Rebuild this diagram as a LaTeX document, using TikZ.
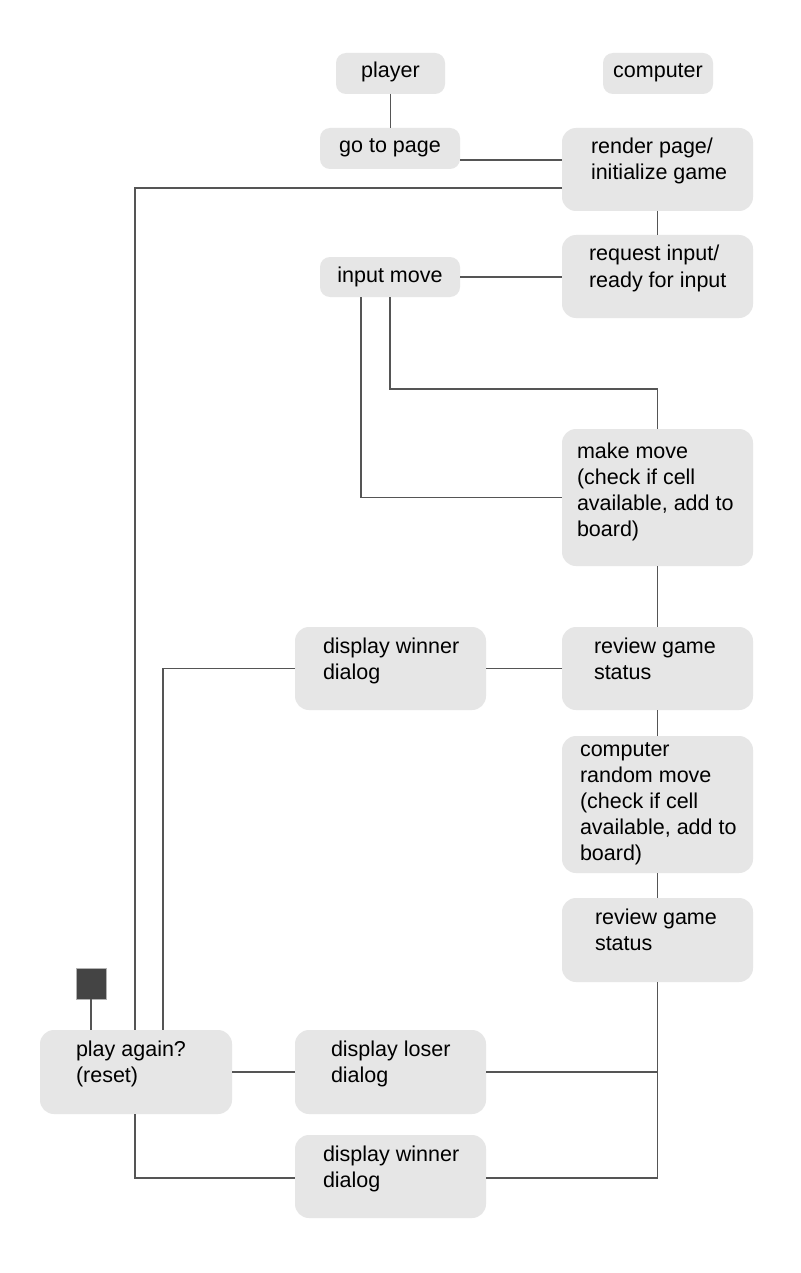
\documentclass[tikz,border=0pt]{standalone}
\usepackage{fontspec}
\setmainfont{Liberation Sans}
\definecolor{boxfill}{RGB}{230,230,230}
\definecolor{linecol}{RGB}{85,85,85}
\definecolor{sqfill}{RGB}{68,68,68}
\newcommand\tstrut{\rule{0pt}{18pt}}
\begin{document}
\begin{tikzpicture}[x=1pt,y=-1pt,
  box/.style={fill=boxfill, draw=none, rounded corners=14pt, inner sep=0pt, outer sep=0pt},
  smallbox/.style={box, rounded corners=10pt},
  txt/.style={inner sep=0pt, outer sep=0pt, font=\fontsize{21.5}{26}\selectfont, align=left, text=black},
  conn/.style={draw=linecol, line width=1.2pt}
]
\useasboundingbox[fill=white] (0,0) rectangle (800,1273);

% boxes
\node[smallbox, minimum width=109pt, minimum height=41pt] (player) at (390.5,73.5) {};
\node[smallbox, minimum width=110pt, minimum height=41pt] (computer) at (658,73.5) {};
\node[smallbox, minimum width=140pt, minimum height=41pt] (goto) at (390,148.5) {};
\node[box, minimum width=191pt, minimum height=83pt] (render) at (657.5,169.5) {};
\node[box, minimum width=191pt, minimum height=83pt] (request) at (657.5,276.5) {};
\node[smallbox, minimum width=140pt, minimum height=40pt] (inputmove) at (390,277) {};
\node[box, minimum width=191pt, minimum height=137pt] (makemove) at (657.5,497.5) {};
\node[box, minimum width=191pt, minimum height=83pt] (winner1) at (390.5,668.5) {};
\node[box, minimum width=191pt, minimum height=83pt] (review1) at (657.5,668.5) {};
\node[box, minimum width=191pt, minimum height=137pt] (random) at (657.5,804.5) {};
\node[box, minimum width=191pt, minimum height=84pt] (review2) at (657.5,940) {};
\node[box, minimum width=192pt, minimum height=84pt] (playagain) at (136,1072) {};
\node[box, minimum width=191pt, minimum height=84pt] (loser) at (390.5,1072) {};
\node[box, minimum width=191pt, minimum height=83pt] (winner2) at (390.5,1176.5) {};
\node[fill=sqfill, draw=gray!60, line width=0.6pt, minimum width=30pt, minimum height=31pt, inner sep=0pt, outer sep=0pt] (startsq) at (91,983.5) {};

% texts
\node[txt, anchor=base] (tplayer) at (390.5,78) {player};
\node[txt, anchor=base] (tcomputer) at (658,78) {computer};
\node[txt, anchor=base] (tgoto) at (390,153) {go to page};
\node[txt, anchor=base] (tinput) at (390,282) {input move};
\node[txt, anchor=north west] (trender) at (591,136) {\tstrut render page/\\initialize game};
\node[txt, anchor=north west] (trequest) at (589,243) {\tstrut request input/\\ready for input};
\node[txt, anchor=north west] (tmake) at (577,440) {\tstrut make move\\(check if cell\\available, add to\\board)};
\node[txt, anchor=north west] (twinner1) at (323,635) {\tstrut display winner\\dialog};
\node[txt, anchor=north west] (treview1) at (594,635) {\tstrut review game\\status};
\node[txt, anchor=north west] (trandom) at (580,738) {\tstrut computer\\random move\\(check if cell\\available, add to\\board)};
\node[txt, anchor=north west] (treview2) at (595,906) {\tstrut review game\\status};
\node[txt, anchor=north west] (tplay) at (76,1038) {\tstrut play again?\\(reset)};
\node[txt, anchor=north west] (tloser) at (331,1038) {\tstrut display loser\\dialog};
\node[txt, anchor=north west] (twinner2) at (323,1143) {\tstrut display winner\\dialog};

% connectors
\draw[conn] (player.south) -- (player.south |- goto.north);
\draw[conn] ([yshift=-11.5pt]goto.east) -- ([yshift=-11.5pt]goto.east -| render.west);
\draw[conn] ([yshift=-18.5pt]render.west) -| ([xshift=-1pt]playagain.north);
\draw[conn] (render.south) -- (request.north);
\draw[conn] (inputmove.east) -- (inputmove.east -| request.west);
\draw[conn] (inputmove.south) -- ++(0,92) -| (makemove.north);
\draw[conn] ([xshift=-29pt]inputmove.south) |- (makemove.west);
\draw[conn] (makemove.south) -- (review1.north);
\draw[conn] (review1.west) -- (winner1.east);
\draw[conn] (winner1.west) -| ([xshift=27pt]playagain.north);
\draw[conn] (review1.south) -- (random.north);
\draw[conn] (random.south) -- (review2.north);
\draw[conn] (review2.south) |- (loser.east);
\draw[conn] (review2.south) |- ([yshift=-1.5pt]winner2.east);
\draw[conn] (playagain.east) -- (loser.west);
\draw[conn] ([xshift=-1pt]playagain.south) |- ([yshift=-1.5pt]winner2.west);
\draw[conn] (startsq.south) -- ([xshift=-45pt]playagain.north);
\end{tikzpicture}
\end{document}
